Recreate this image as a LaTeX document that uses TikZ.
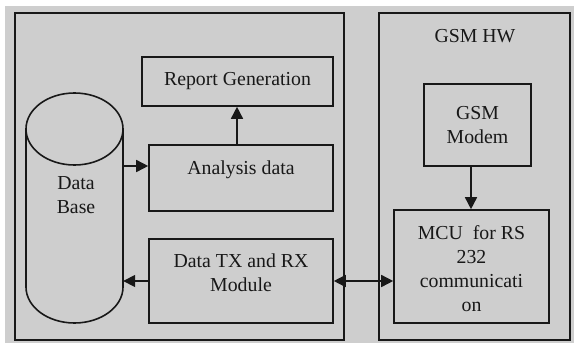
\documentclass[tikz,border=0pt]{standalone}
\usepackage{fontspec}
\setmainfont{Liberation Serif}
\usetikzlibrary{arrows.meta}
\definecolor{bgc}{RGB}{206,206,206}
\definecolor{ink}{RGB}{24,24,24}
\tikzset{
  frame/.style={draw=ink, line width=1.6pt},
  blk/.style={draw=ink, line width=1.6pt, fill=bgc, rectangle, inner sep=0pt},
  lbl/.style={text=ink, font=\fontsize{19.8}{24}\selectfont, align=center, inner sep=0pt},
  conn/.style={draw=ink, line width=1.6pt, -{Triangle[length=12pt,width=12pt]}},
  dconn/.style={draw=ink, line width=1.6pt, {Triangle[length=12pt,width=12pt]}-{Triangle[length=12pt,width=12pt]}}
}
\begin{document}
\begin{tikzpicture}[x=1pt,y=-1pt]
\useasboundingbox (0,0) rectangle (574,343);
\fill[white] (0,0) rectangle (574,343);
\fill[bgc] (5,6) rectangle (574,343);
% outer frames
\draw[frame] (15,13) rectangle (344,340);
\draw[frame] (379,13) rectangle (570,340);
\node[lbl] (hw) at (475,36) {GSM HW};
% database cylinder
\node[inner sep=0pt, minimum width=97pt, minimum height=230pt] (db) at (74.5,208) {};
\draw[frame, fill=bgc] (26,129) -- (26,287) arc[start angle=180, end angle=0, x radius=48.5, y radius=36] -- (123,129);
\draw[frame] (74.5,129) ellipse[x radius=48.5, y radius=36];
\node[lbl] (dbt) at (76,195) {Data\\Base};
% blocks
\node[blk, minimum width=191pt, minimum height=49pt] (rep) at (237.5,81.5) {};
\node[lbl] at (237.5,81) {Report Generation};
\node[blk, minimum width=184pt, minimum height=66pt] (ana) at (241,178) {};
\node[lbl] at (241,170) {Analysis data};
\node[blk, minimum width=184pt, minimum height=84pt] (trx) at (241,281) {};
\node[lbl] at (241,273) {Data TX and RX\\Module};
\node[blk, minimum width=107pt, minimum height=82pt] (gsm) at (477.5,125) {};
\node[lbl] at (477.5,125) {GSM\\Modem};
\node[blk, minimum width=155pt, minimum height=113pt] (mcu) at (471.5,266.5) {};
\node[lbl] at (471.5,269) {MCU\ \ for RS\\232\\communicati\\on};
% connectors
\draw[conn] (ana.north -| 237,0) -- (rep.south -| 237,0);
\draw[conn] (db.east |- 0,166) -- (ana.west |- 0,166);
\draw[conn] (trx.west |- 0,281) -- (db.east |- 0,281);
\draw[conn] (gsm.south -| 471,0) -- (mcu.north -| 471,0);
\draw[dconn] (trx.east |- 0,281) -- (mcu.west |- 0,281);
\end{tikzpicture}
\end{document}
